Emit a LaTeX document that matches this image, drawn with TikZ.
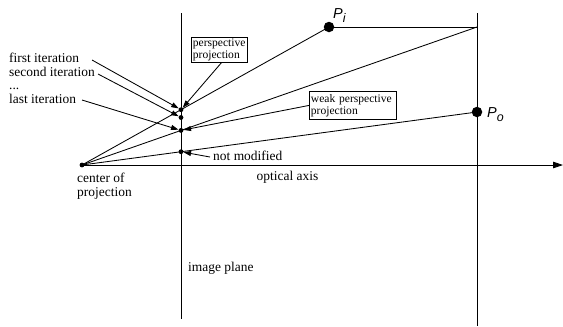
\documentclass[tikz,border=0pt]{standalone}
\usepackage{fontspec}
\setmainfont{Liberation Serif}
\newfontfamily\hv{Liberation Sans}
\usetikzlibrary{arrows.meta,calc}
\begin{document}
\begin{tikzpicture}[x=1bp,y=-1bp,
  ln/.style={line width=0.85bp},
  arr/.style={line width=0.85bp,-{Triangle[length=7.5bp,width=5bp]}},
  sdot/.style={circle,fill,inner sep=0pt,minimum size=4.8bp},
  bdot/.style={circle,fill,inner sep=0pt,minimum size=10.5bp},
  lbl/.style={font=\fontsize{13.5}{14}\selectfont,inner sep=0pt},
  boxlbl/.style={draw,line width=0.85bp,font=\fontsize{11.6}{12}\selectfont,align=left,inner sep=1.5bp,anchor=north west},
  plbl/.style={inner sep=0pt,anchor=base west,font=\hv\itshape\fontsize{14.5}{14.5}\selectfont}]
\useasboundingbox (0,0) rectangle (563,326);
% geometry
\coordinate (C) at (82,165);
\coordinate (T) at (477,27);
\coordinate (IPt) at (181,13);
\coordinate (IPb) at (181,319);
\coordinate (RPt) at (477,13);
\coordinate (RPb) at (477,326);
\coordinate (AxE) at (563,165);
\node[bdot] (PI) at (329,27) {};
\node[bdot] (PO) at (477,112) {};
\draw[ln] (IPt) -- (IPb);
\draw[ln] (RPt) -- (RPb);
\draw[ln,-{Triangle[length=10bp,width=6.5bp]}] (C) -- (AxE);
\draw[ln] (C) -- (PI.center);
\draw[ln] (PI.center) -- (T);
\draw[ln] (C) -- (T);
\draw[ln] (C) -- (PO.center);
\node[sdot] (Cd) at (C) {};
\node[sdot] (D1) at ($(C)!0.4008!(PI.center)$) {};
\node[sdot] (D2) at (181,117.5) {};
\node[sdot] (D3) at ($(C)!0.2506!(T)$) {};
\node[sdot] (D4) at ($(C)!0.2506!(PO.center)$) {};
% point labels
\node[plbl] (PIl) at (333,18) {P\raisebox{-4bp}{\fontsize{12.5}{12.5}\selectfont i}};
\node[plbl] (POl) at (487,117) {P\raisebox{-4bp}{\fontsize{12.5}{12.5}\selectfont o}};
% iteration labels
\node[lbl,anchor=base west] (L1) at (9,62.5) {first iteration};
\node[lbl,anchor=base west] (L2) at (9,76.5) {second iteration};
\node[lbl,anchor=base west] (L3) at (9,89) {...};
\node[lbl,anchor=base west] (L4) at (9,103) {last iteration};
\coordinate (A1) at (92,60);
\coordinate (A2) at (98,74);
\coordinate (A4) at (82,100);
\draw[arr] (A1) -- (D1);
\draw[arr] (A2) -- (D2);
\draw[arr] (A4) -- (D3);
% boxes
\node[boxlbl] (PP) at (191,37) {perspective\\projection};
\node[boxlbl,text width=84bp,minimum height=28bp] (WP) at (309,91) {weak perspective\\projection};
\draw[arr] ([xshift=2bp]PP.south) -- (D1);
\draw[arr] (WP.west) -- (D3);
% not modified
\node[lbl,anchor=base west] (NM) at (213,160) {not modified};
\coordinate (A5) at (210,157);
\draw[arr] (A5) -- (D4);
% other labels
\node[lbl,anchor=north west,align=left] (CP) at (77,173) {center of\\projection};
\node[lbl,anchor=base] (OA) at (287.5,180.5) {optical axis};
\node[lbl,anchor=base west] (IP) at (188,271) {image plane};
\end{tikzpicture}
\end{document}
